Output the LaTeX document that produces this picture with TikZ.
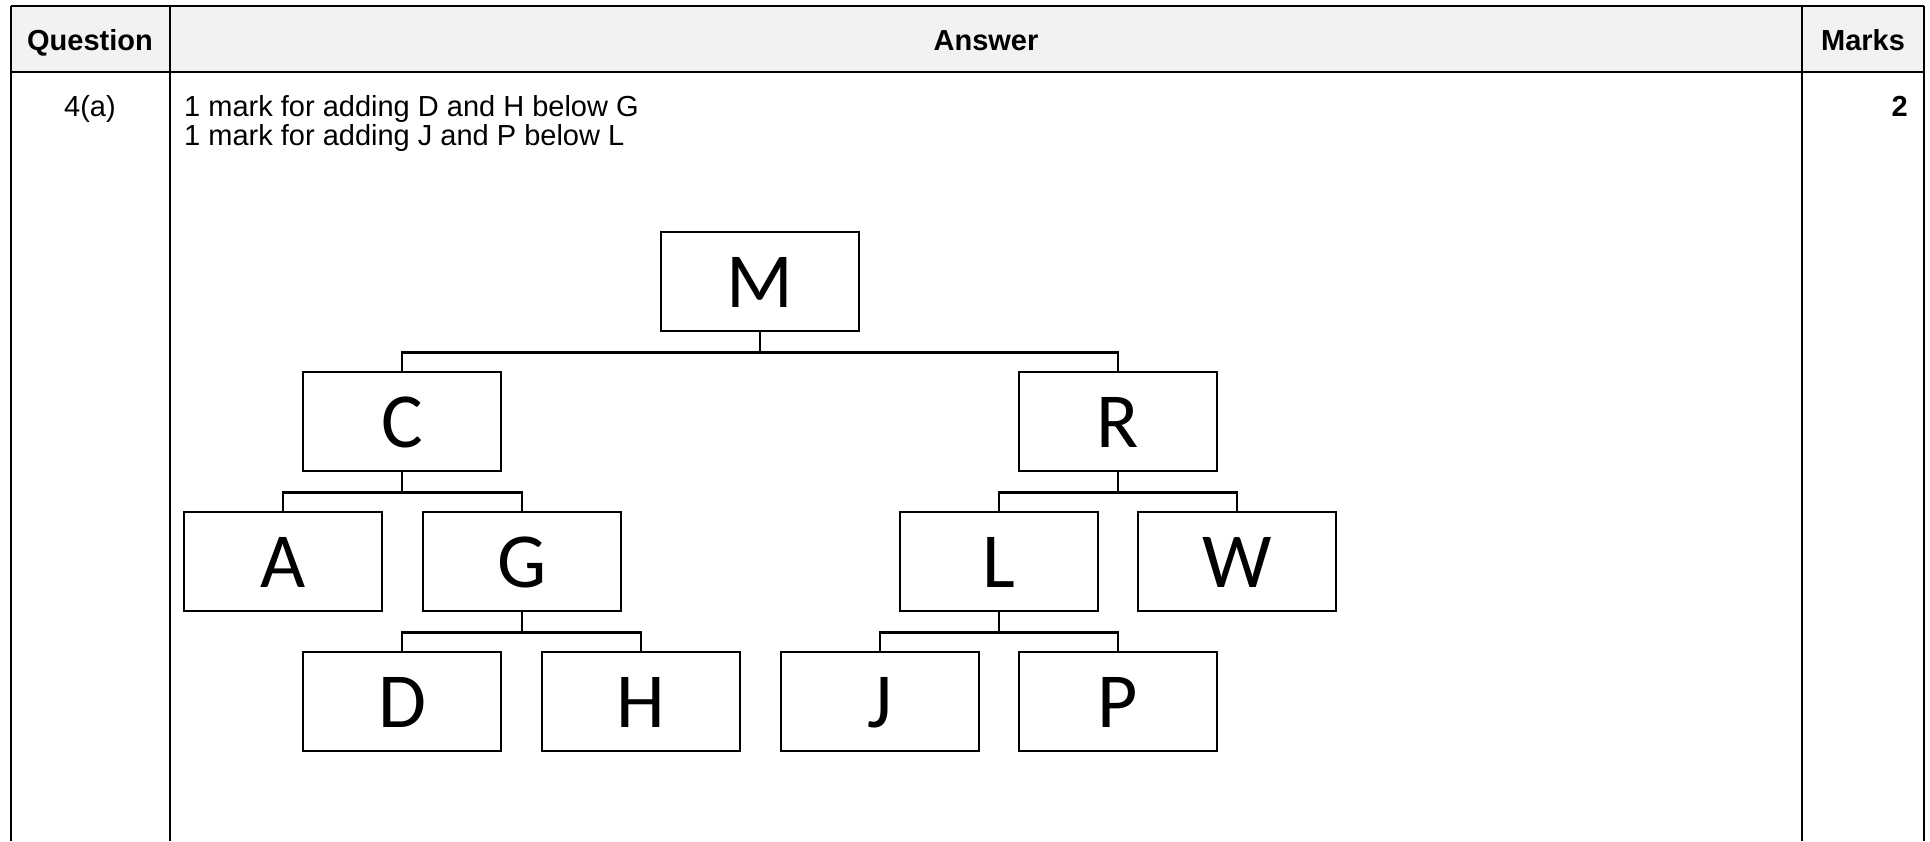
\documentclass[tikz,border=0pt]{standalone}
\usepackage{fontspec}
\setmainfont{Liberation Sans}
\newfontfamily\boxfont{Carlito}
\definecolor{headgray}{HTML}{F2F2F2}
\begin{document}
\begin{tikzpicture}[x=1pt,y=-1pt,
  tline/.style={line width=2.2pt,black},
  treebox/.style={draw=black,line width=2.6pt,minimum width=198pt,minimum height=99pt,
    inner sep=0pt,text height=51pt,text depth=0pt,font=\boxfont\fontsize{78}{80}\selectfont},
  conn/.style={line width=2.4pt,black},
  tabtxt/.style={inner sep=0pt,font=\fontsize{29}{34}\selectfont},
  headtxt/.style={inner sep=0pt,font=\bfseries\fontsize{29}{34}\selectfont}]
\useasboundingbox (0,0) rectangle (1930,841);
\fill[white] (0,0) rectangle (1930,841);
% header
\fill[headgray] (11,6) rectangle (1924,72);
\draw[tline] (11,6) -- (1924,6);
\draw[tline] (11,72) -- (1924,72);
\draw[tline] (11,6) -- (11,841);
\draw[tline] (170,6) -- (170,841);
\draw[tline] (1802,6) -- (1802,841);
\draw[tline] (1924,6) -- (1924,841);
\node[headtxt,anchor=base] (hq) at (90,50) {Question};
\node[headtxt,anchor=base] (ha) at (986,50) {Answer};
\node[headtxt,anchor=base] (hm) at (1863,50) {Marks};
\node[tabtxt,anchor=base] (q) at (90,116) {4(a)};
\node[tabtxt,anchor=base west] (l1) at (184,116) {1 mark for adding D and H below G};
\node[tabtxt,anchor=base west] (l2) at (184,145) {1 mark for adding J and P below L};
\node[headtxt,anchor=base east] (mk) at (1908,116) {2};
% tree
\node[treebox] (M) at (760,281.5) {M};
\node[treebox] (C) at (402,421.5) {C};
\node[treebox] (R) at (1118,421.5) {R};
\node[treebox] (A) at (283,561.5) {A};
\node[treebox] (G) at (522,561.5) {G};
\node[treebox] (L) at (999,561.5) {L};
\node[treebox] (W) at (1237,561.5) {W};
\node[treebox] (D) at (402,701.5) {D};
\node[treebox] (H) at (641,701.5) {H};
\node[treebox] (J) at (880,701.5) {J};
\node[treebox] (P) at (1118,701.5) {P};
\draw[conn] (M.south) -- ++(0,20) -| (C.north);
\draw[conn] (M.south) -- ++(0,20) -| (R.north);
\draw[conn] (C.south) -- ++(0,20) -| (A.north);
\draw[conn] (C.south) -- ++(0,20) -| (G.north);
\draw[conn] (R.south) -- ++(0,20) -| (L.north);
\draw[conn] (R.south) -- ++(0,20) -| (W.north);
\draw[conn] (G.south) -- ++(0,20) -| (D.north);
\draw[conn] (G.south) -- ++(0,20) -| (H.north);
\draw[conn] (L.south) -- ++(0,20) -| (J.north);
\draw[conn] (L.south) -- ++(0,20) -| (P.north);
\end{tikzpicture}
\end{document}
